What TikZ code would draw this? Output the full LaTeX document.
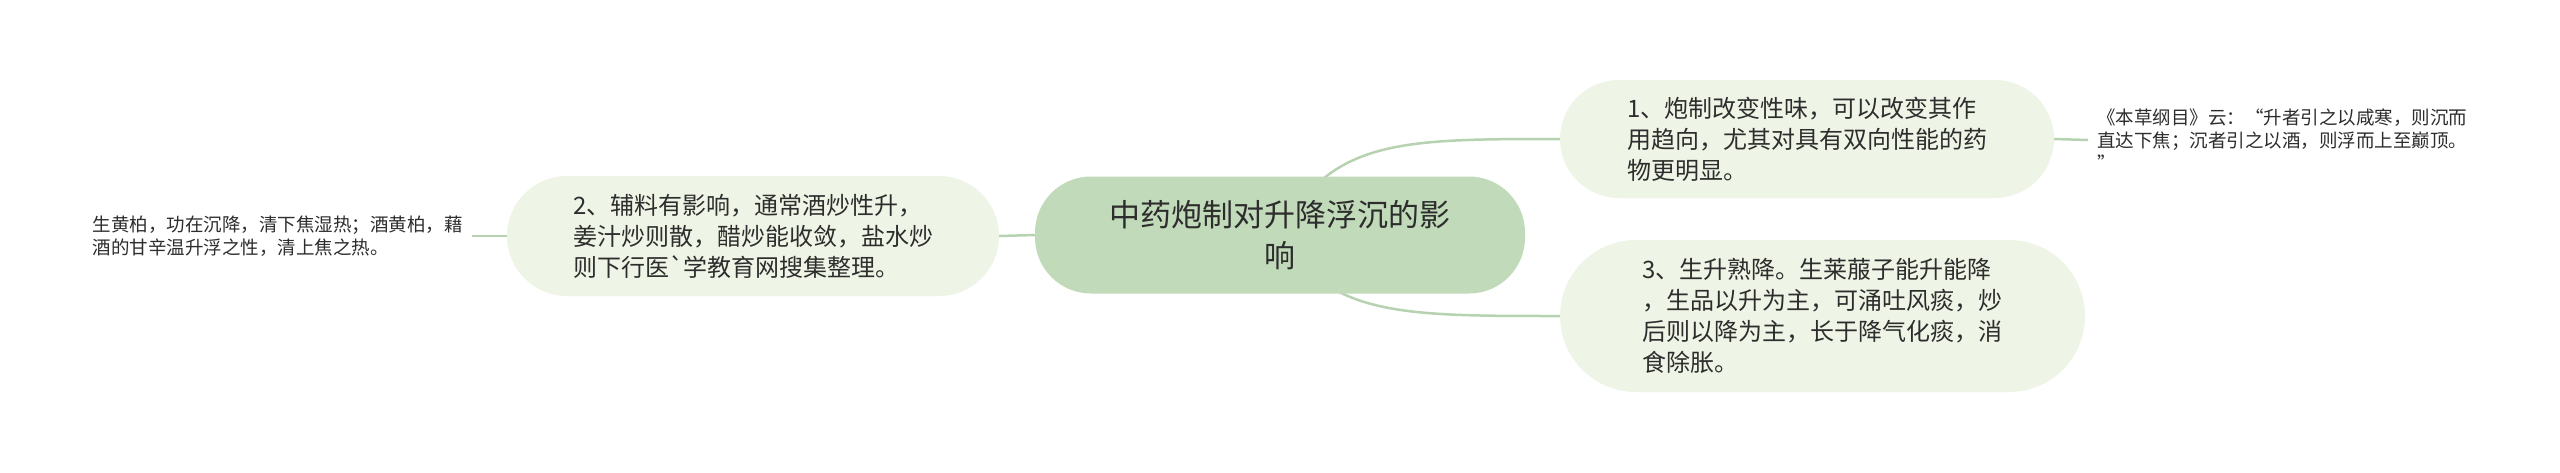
\documentclass[tikz,border=0pt]{standalone}
\usepackage{fontspec}
\newfontfamily\cjk{Noto Sans CJK SC}
\definecolor{rootfill}{RGB}{193,218,185}
\definecolor{nodefill}{RGB}{239,245,230}
\definecolor{linkcol}{RGB}{183,210,176}
\definecolor{txt}{RGB}{45,45,45}
\pgfdeclarelayer{bg}
\pgfdeclarelayer{links}
\pgfsetlayers{bg,links,main}
\begin{document}
\begin{tikzpicture}[x=1pt,y=-1pt,
  rootbox/.style={fill=rootfill, rounded corners=56pt, minimum width=490pt, minimum height=117pt, inner sep=0pt, align=center, text=txt, font=\cjk\fontsize{31}{41}\selectfont},
  topic/.style={fill=nodefill, inner sep=0pt, align=left, text=txt, font=\cjk\fontsize{24}{31}\selectfont},
  leaf/.style={inner xsep=9pt, inner ysep=0pt, align=left, text=txt, font=\cjk\fontsize{18.5}{23}\selectfont},
  link/.style={draw=linkcol, line width=2.5pt}]
\useasboundingbox (0,0) rectangle (2560,472);
\begin{pgfonlayer}{bg}
\fill[white] (0,0) rectangle (2560,472);
\end{pgfonlayer}
\node[rootbox] (root) at (1280,235) {中药炮制对升降浮沉的影\\响};
\node[topic, minimum width=494pt, minimum height=118pt, rounded corners=59pt] (t1) at (1807,139) {1、炮制改变性味，可以改变其作\\用趋向，尤其对具有双向性能的药\\物更明显。};
\node[topic, minimum width=525pt, minimum height=152pt, rounded corners=76pt] (t3) at (1822.5,316) {3、生升熟降。生莱菔子能升能降\\，生品以升为主，可涌吐风痰，炒\\后则以降为主，长于降气化痰，消\\食除胀。};
\node[topic, minimum width=492pt, minimum height=120pt, rounded corners=60pt] (t2) at (753,236) {2、辅料有影响，通常酒炒性升，\\姜汁炒则散，醋炒能收敛，盐水炒\\则下行医`学教育网搜集整理。};
\node[leaf, anchor=west] (l1) at (2088,140) {《本草纲目》云：“升者引之以咸寒，则沉而\\直达下焦；沉者引之以酒，则浮而上至巅顶。\\”};
\node[leaf, anchor=east] (l2) at (472,236) {生黄柏，功在沉降，清下焦湿热；酒黄柏，藉\\酒的甘辛温升浮之性，清上焦之热。};
\begin{pgfonlayer}{links}
\draw[link] (root.center) .. controls (1330,139) and (1400,139) .. (t1.west);
\draw[link] (root.center) .. controls (1330,316) and (1400,316) .. (t3.west);
\draw[link] (root.west) -- (t2.east);
\draw[link] (t2.west) -- (l2.east);
\draw[link] (t1.east) -- (l1.west);
\end{pgfonlayer}
\end{tikzpicture}
\end{document}
